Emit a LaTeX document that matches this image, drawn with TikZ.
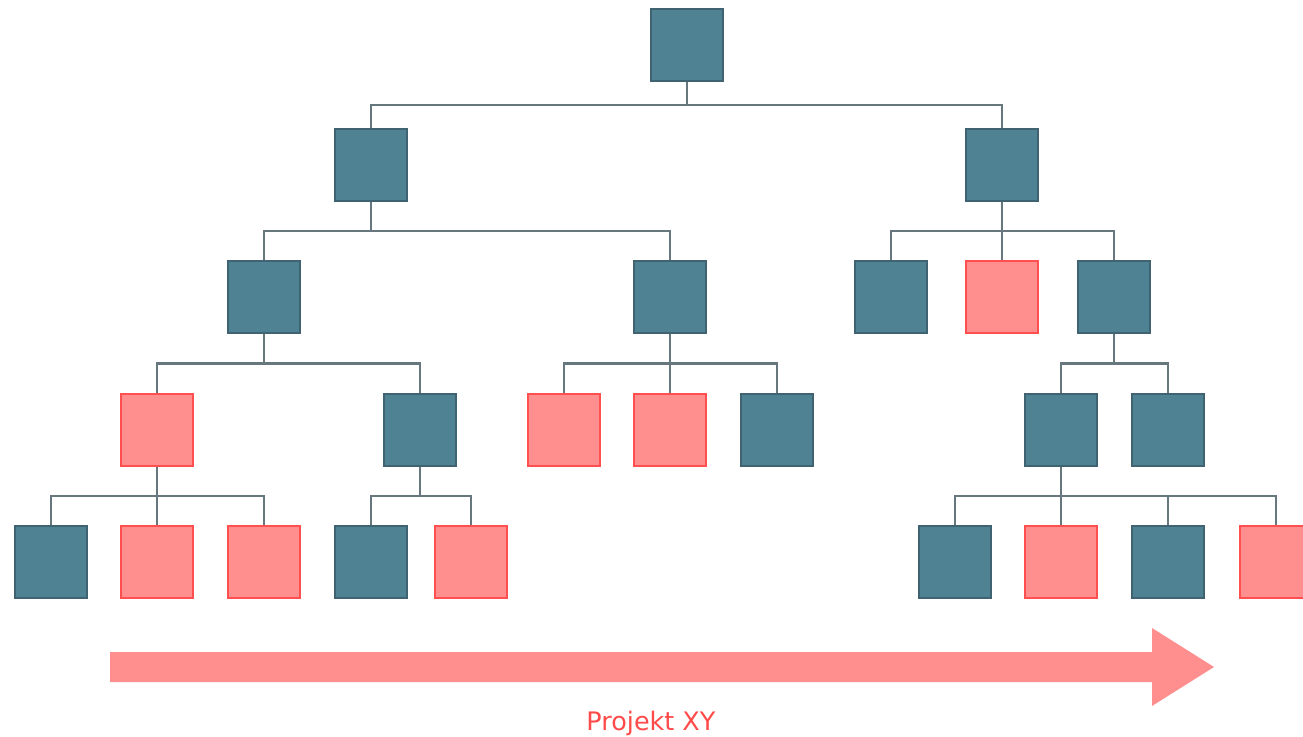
\documentclass[tikz,border=0pt]{standalone}
\usepackage{fontspec}
\setmainfont{DejaVu Sans}
\usetikzlibrary{calc}
\definecolor{boxblue}{HTML}{4F8293}
\definecolor{boxblueline}{HTML}{3F6371}
\definecolor{boxpink}{HTML}{FF8F8F}
\definecolor{boxpinkline}{HTML}{FF4F4F}
\definecolor{linkgray}{HTML}{66777E}
\definecolor{textred}{HTML}{FF4A4A}
\tikzset{
  blue box/.style={rectangle, fill=boxblue, draw=boxblueline, line width=0.04cm,
    minimum size=1.44cm, inner sep=0pt},
  pink box/.style={rectangle, fill=boxpink, draw=boxpinkline, line width=0.04cm,
    minimum size=1.44cm, inner sep=0pt},
  link/.style={draw=linkgray, line width=0.05cm},
}

\begin{document}
\begin{tikzpicture}[x=0.02cm, y=-0.02cm]
	\useasboundingbox (0,0) rectangle (1303,737);
	% level 0 and 1
	\node[blue box] (top) at (687,45) {};
	\node[blue box] (l) at (371,165) {};
	\node[blue box] (r) at (1002,165) {};
	% level 2
	\node[blue box] (ll) at (264,297) {};
	\node[blue box] (lr) at (670,297) {};
	\node[blue box] (rl) at (891,297) {};
	\node[pink box] (rm) at (1002,297) {};
	\node[blue box] (rr) at (1114,297) {};
	% level 3
	\node[pink box] (lll) at (157,430) {};
	\node[blue box] (llr) at (420,430) {};
	\node[pink box] (lrl) at (564,430) {};
	\node[pink box] (lrm) at (670,430) {};
	\node[blue box] (lrr) at (777,430) {};
	\node[blue box] (rrl) at (1061,430) {};
	\node[blue box] (rrr) at (1168,430) {};
	% level 4
	\node[blue box] (llla) at (51,562) {};
	\node[pink box] (lllb) at (157,562) {};
	\node[pink box] (lllc) at (264,562) {};
	\node[blue box] (llra) at (371,562) {};
	\node[pink box] (llrb) at (471,562) {};
	\node[blue box] (rrla) at (955,562) {};
	\node[pink box] (rrlb) at (1061,562) {};
	\node[blue box] (rrlc) at (1168,562) {};
	\node[pink box] (rrld) at (1276,562) {};
	% connectors
	\foreach \p/\c in {top/l, top/r, l/ll, l/lr, r/rl, r/rm, r/rr,
		ll/lll, ll/llr, lr/lrl, lr/lrm, lr/lrr, rr/rrl, rr/rrr,
		lll/llla, lll/lllb, lll/lllc, llr/llra, llr/llrb,
		rrl/rrla, rrl/rrlb, rrl/rrlc, rrl/rrld}
		\draw[link] (\p.south) |- ($(\p.south)!.5!(\c.north)$) -| (\c.north);
	% timeline
	\fill[boxpink] (110,652) -- (1152,652) -- (1152,628) -- (1214,667)
		-- (1152,706) -- (1152,682) -- (110,682) -- cycle;
	\node[text=textred, font=\fontsize{14.5}{17}\selectfont, anchor=base]
		(title) at (651,730) {Projekt XY};
\end{tikzpicture}
\end{document}
